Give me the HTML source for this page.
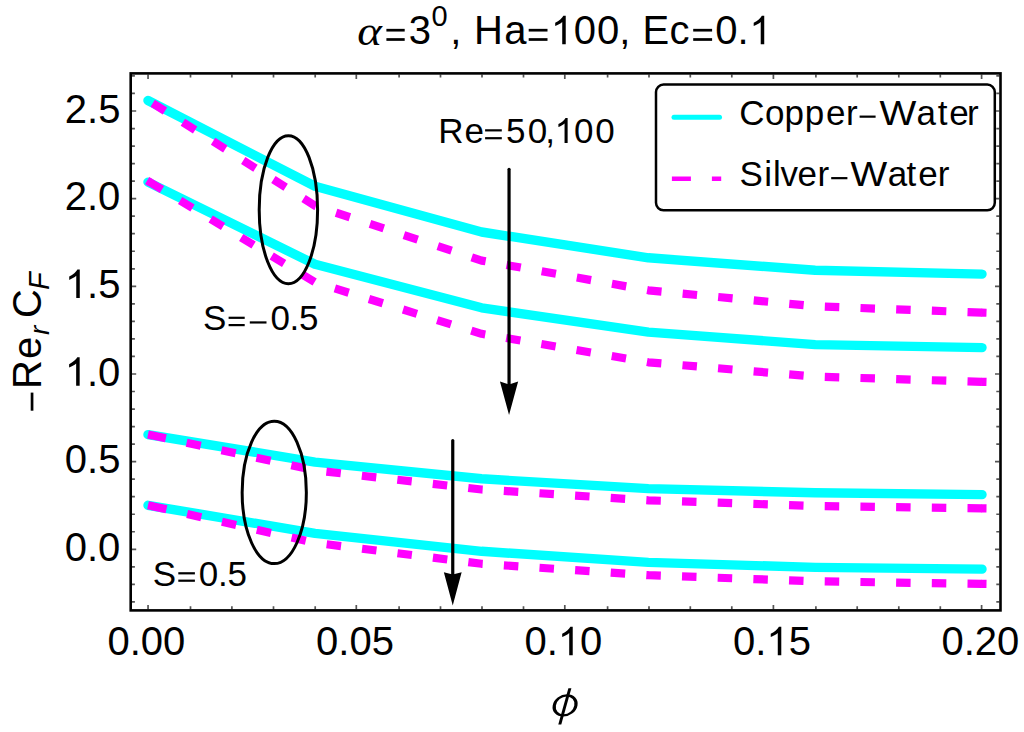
<!DOCTYPE html>
<html><head><meta charset="utf-8"><style>
html,body{margin:0;padding:0;background:#fff;overflow:hidden;}
svg{display:block;}
text{font-family:"Liberation Sans",sans-serif;fill:#000;}
</style></head><body>
<svg width="1024" height="732" viewBox="0 0 1024 732">
<rect x="0" y="0" width="1024" height="732" fill="#fff"/>
<path d="M148.05,609.20v-4.3M148.05,74.60v4.3M190.50,609.20v-3.0M190.50,74.60v3.0M231.90,609.20v-3.0M231.90,74.60v3.0M273.50,609.20v-3.0M273.50,74.60v3.0M315.20,609.20v-3.0M315.20,74.60v3.0M356.30,609.20v-4.3M356.30,74.60v4.3M399.10,609.20v-3.0M399.10,74.60v3.0M440.50,609.20v-3.0M440.50,74.60v3.0M482.00,609.20v-3.0M482.00,74.60v3.0M523.50,609.20v-3.0M523.50,74.60v3.0M564.80,609.20v-4.3M564.80,74.60v4.3M607.60,609.20v-3.0M607.60,74.60v3.0M649.00,609.20v-3.0M649.00,74.60v3.0M690.30,609.20v-3.0M690.30,74.60v3.0M731.80,609.20v-3.0M731.80,74.60v3.0M773.40,609.20v-4.3M773.40,74.60v4.3M815.90,609.20v-3.0M815.90,74.60v3.0M857.20,609.20v-3.0M857.20,74.60v3.0M898.80,609.20v-3.0M898.80,74.60v3.0M940.30,609.20v-3.0M940.30,74.60v3.0M981.60,609.20v-4.3M981.60,74.60v4.3M131.90,601.90h3.0M999.30,601.90h-3.0M131.90,584.36h3.0M999.30,584.36h-3.0M131.90,566.83h3.0M999.30,566.83h-3.0M131.90,549.30h4.3M999.30,549.30h-4.3M131.90,531.77h3.0M999.30,531.77h-3.0M131.90,514.24h3.0M999.30,514.24h-3.0M131.90,496.70h3.0M999.30,496.70h-3.0M131.90,479.17h3.0M999.30,479.17h-3.0M131.90,461.64h4.3M999.30,461.64h-4.3M131.90,444.11h3.0M999.30,444.11h-3.0M131.90,426.58h3.0M999.30,426.58h-3.0M131.90,409.04h3.0M999.30,409.04h-3.0M131.90,391.51h3.0M999.30,391.51h-3.0M131.90,373.98h4.3M999.30,373.98h-4.3M131.90,356.45h3.0M999.30,356.45h-3.0M131.90,338.92h3.0M999.30,338.92h-3.0M131.90,321.38h3.0M999.30,321.38h-3.0M131.90,303.85h3.0M999.30,303.85h-3.0M131.90,286.32h4.3M999.30,286.32h-4.3M131.90,268.79h3.0M999.30,268.79h-3.0M131.90,251.26h3.0M999.30,251.26h-3.0M131.90,233.72h3.0M999.30,233.72h-3.0M131.90,216.19h3.0M999.30,216.19h-3.0M131.90,198.66h4.3M999.30,198.66h-4.3M131.90,181.13h3.0M999.30,181.13h-3.0M131.90,163.60h3.0M999.30,163.60h-3.0M131.90,146.06h3.0M999.30,146.06h-3.0M131.90,128.53h3.0M999.30,128.53h-3.0M131.90,111.00h4.3M999.30,111.00h-4.3M131.90,93.47h3.0M999.30,93.47h-3.0M131.90,75.94h3.0M999.30,75.94h-3.0" stroke="#555" stroke-width="1.7" fill="none"/>
<polyline points="148.0,100.5 315.0,186.3 481.6,232.0 648.4,257.8 815.2,270.3 982.0,274.1" fill="none" stroke="#00ffff" stroke-width="9.4" stroke-linejoin="round" stroke-linecap="round"/>
<polyline points="148.0,182.1 315.0,264.3 481.6,307.8 648.4,332.1 815.2,344.6 982.0,347.6" fill="none" stroke="#00ffff" stroke-width="9.4" stroke-linejoin="round" stroke-linecap="round"/>
<polyline points="148.0,434.6 315.0,462.1 481.6,478.8 648.4,488.6 815.2,492.8 982.0,494.6" fill="none" stroke="#00ffff" stroke-width="9.4" stroke-linejoin="round" stroke-linecap="round"/>
<polyline points="148.0,505.3 315.0,533.3 481.6,551.3 648.4,562.4 815.2,567.4 982.0,569.1" fill="none" stroke="#00ffff" stroke-width="9.4" stroke-linejoin="round" stroke-linecap="round"/>
<polyline points="982.0,312.6 815.2,306.3 648.4,290.3 481.6,260.6 315.0,205.8 148.0,100.2" fill="none" stroke="#ff00ff" stroke-width="8.2" stroke-linejoin="round" stroke-dasharray="14.5 21.20" stroke-dashoffset="0"/>
<line x1="981.50" y1="312.58" x2="986.50" y2="312.77" stroke="#ff00ff" stroke-width="8.2"/>
<polyline points="982.0,381.8 815.2,376.6 648.4,362.3 481.6,333.8 315.0,282.3 148.0,181.1" fill="none" stroke="#ff00ff" stroke-width="8.2" stroke-linejoin="round" stroke-dasharray="14.5 21.20" stroke-dashoffset="0"/>
<line x1="981.50" y1="381.78" x2="986.50" y2="381.94" stroke="#ff00ff" stroke-width="8.2"/>
<line x1="147.14" y1="180.58" x2="150.10" y2="182.37" stroke="#ff00ff" stroke-width="8.2"/>
<polyline points="982.0,508.3 815.2,506.0 648.4,500.3 481.6,489.5 315.0,470.3 148.0,434.5" fill="none" stroke="#ff00ff" stroke-width="8.2" stroke-linejoin="round" stroke-dasharray="14.5 21.20" stroke-dashoffset="0"/>
<line x1="981.50" y1="508.29" x2="986.50" y2="508.36" stroke="#ff00ff" stroke-width="8.2"/>
<line x1="148.00" y1="434.50" x2="152.26" y2="435.41" stroke="#ff00ff" stroke-width="8.2"/>
<polyline points="982.0,583.9 815.2,581.3 648.4,575.2 481.6,563.8 315.0,542.8 148.0,505.2" fill="none" stroke="#ff00ff" stroke-width="8.2" stroke-linejoin="round" stroke-dasharray="14.5 21.20" stroke-dashoffset="0"/>
<line x1="981.50" y1="583.89" x2="986.50" y2="583.97" stroke="#ff00ff" stroke-width="8.2"/>
<line x1="148.00" y1="505.20" x2="152.90" y2="506.30" stroke="#ff00ff" stroke-width="8.2"/>
<rect x="130.7" y="73.4" width="869.8" height="537.0" fill="none" stroke="#000" stroke-width="2.6"/>
<ellipse cx="288.4" cy="209.7" rx="29.2" ry="74" fill="none" stroke="#000" stroke-width="3"/>
<ellipse cx="274.25" cy="492.4" rx="32.1" ry="71.2" fill="none" stroke="#000" stroke-width="3"/>
<line x1="509.05" y1="169.3" x2="509.05" y2="385.5" stroke="#000" stroke-width="3.2" stroke-linecap="round"/><path d="M509.05,415.0L499.95,381.5L509.05,384.5L518.15,381.5Z" fill="#000"/>
<line x1="452.75" y1="440.5" x2="452.75" y2="575.6" stroke="#000" stroke-width="3.2" stroke-linecap="round"/><path d="M452.75,605.5L443.85,572.3L452.75,574.6L461.65,572.3Z" fill="#000"/>
<rect x="656" y="84.6" width="338.8" height="125.7" rx="7.5" ry="7.5" fill="#fff" stroke="#000" stroke-width="2.5"/>
<line x1="674" y1="117.3" x2="719.5" y2="117.3" stroke="#00ffff" stroke-width="5" stroke-linecap="round"/>
<line x1="671.9" y1="178.8" x2="721.2" y2="178.8" stroke="#ff00ff" stroke-width="4.5" stroke-dasharray="19 21"/>
<text x="408.68" y="44.30" font-size="40" style='font-family:"Liberation Sans",sans-serif'>3</text>
<rect x="386.40" y="28.85" width="18.30" height="2.70" fill="#000"/><rect x="386.40" y="38.15" width="18.30" height="2.70" fill="#000"/>
<rect x="528.70" y="28.85" width="18.80" height="2.70" fill="#000"/><rect x="528.70" y="38.15" width="18.80" height="2.70" fill="#000"/>
<rect x="693.20" y="28.85" width="18.90" height="2.70" fill="#000"/><rect x="693.20" y="38.15" width="18.90" height="2.70" fill="#000"/>
<text x="450.31" y="44.30" font-size="40" style='font-family:"Liberation Sans",sans-serif'>,</text>
<text x="474.12" y="44.30" font-size="40" style='font-family:"Liberation Sans",sans-serif'>H</text>
<text x="504.30" y="44.30" font-size="40" style='font-family:"Liberation Sans",sans-serif'>a</text>
<path d="M763 0L583 0L583 1147C540 1106 483 1065 413 1024C343 983 280 952 223 931L223 1105C323 1152 410 1209 484 1276C558 1343 611 1407 642 1466L763 1466Z" transform="translate(550.84,44.30) scale(0.01953,-0.01953)" fill="#000"/>
<text x="573.84" y="44.30" font-size="40" style='font-family:"Liberation Sans",sans-serif'>0</text>
<text x="596.94" y="44.30" font-size="40" style='font-family:"Liberation Sans",sans-serif'>0</text>
<text x="619.21" y="44.30" font-size="40" style='font-family:"Liberation Sans",sans-serif'>,</text>
<text x="642.42" y="44.30" font-size="40" style='font-family:"Liberation Sans",sans-serif'>E</text>
<text x="669.50" y="44.30" font-size="40" style='font-family:"Liberation Sans",sans-serif'>c</text>
<text x="715.24" y="44.30" font-size="40" style='font-family:"Liberation Sans",sans-serif'>0</text>
<text x="737.45" y="44.30" font-size="40" style='font-family:"Liberation Sans",sans-serif'>.</text>
<path d="M763 0L583 0L583 1147C540 1106 483 1065 413 1024C343 983 280 952 223 931L223 1105C323 1152 410 1209 484 1276C558 1343 611 1407 642 1466L763 1466Z" transform="translate(749.34,44.30) scale(0.01953,-0.01953)" fill="#000"/>
<text x="431.47" y="26.20" font-size="29" style='font-family:"Liberation Sans",sans-serif'>0</text>
<text transform="translate(357.20,45.27) scale(1.173,1.043)" font-size="40" style='font-family:"Liberation Serif",serif' font-style="italic">α</text>
<text x="64.87" y="122.80" font-size="40" style='font-family:"Liberation Sans",sans-serif'>2</text>
<text x="87.12" y="122.80" font-size="40" style='font-family:"Liberation Sans",sans-serif'>.</text>
<text x="98.23" y="122.80" font-size="40" style='font-family:"Liberation Sans",sans-serif'>5</text>
<text x="64.76" y="210.46" font-size="40" style='font-family:"Liberation Sans",sans-serif'>2</text>
<text x="87.00" y="210.46" font-size="40" style='font-family:"Liberation Sans",sans-serif'>.</text>
<text x="98.12" y="210.46" font-size="40" style='font-family:"Liberation Sans",sans-serif'>0</text>
<path d="M763 0L583 0L583 1147C540 1106 483 1065 413 1024C343 983 280 952 223 931L223 1105C323 1152 410 1209 484 1276C558 1343 611 1407 642 1466L763 1466Z" transform="translate(64.87,298.12) scale(0.01953,-0.01953)" fill="#000"/>
<text x="87.12" y="298.12" font-size="40" style='font-family:"Liberation Sans",sans-serif'>.</text>
<text x="98.23" y="298.12" font-size="40" style='font-family:"Liberation Sans",sans-serif'>5</text>
<path d="M763 0L583 0L583 1147C540 1106 483 1065 413 1024C343 983 280 952 223 931L223 1105C323 1152 410 1209 484 1276C558 1343 611 1407 642 1466L763 1466Z" transform="translate(64.76,385.78) scale(0.01953,-0.01953)" fill="#000"/>
<text x="87.00" y="385.78" font-size="40" style='font-family:"Liberation Sans",sans-serif'>.</text>
<text x="98.12" y="385.78" font-size="40" style='font-family:"Liberation Sans",sans-serif'>0</text>
<text x="64.87" y="473.44" font-size="40" style='font-family:"Liberation Sans",sans-serif'>0</text>
<text x="87.12" y="473.44" font-size="40" style='font-family:"Liberation Sans",sans-serif'>.</text>
<text x="98.23" y="473.44" font-size="40" style='font-family:"Liberation Sans",sans-serif'>5</text>
<text x="64.76" y="561.10" font-size="40" style='font-family:"Liberation Sans",sans-serif'>0</text>
<text x="87.00" y="561.10" font-size="40" style='font-family:"Liberation Sans",sans-serif'>.</text>
<text x="98.12" y="561.10" font-size="40" style='font-family:"Liberation Sans",sans-serif'>0</text>
<text x="107.47" y="655.30" font-size="40" style='font-family:"Liberation Sans",sans-serif'>0</text>
<text x="129.72" y="655.30" font-size="40" style='font-family:"Liberation Sans",sans-serif'>.</text>
<text x="140.83" y="655.30" font-size="40" style='font-family:"Liberation Sans",sans-serif'>0</text>
<text x="163.08" y="655.30" font-size="40" style='font-family:"Liberation Sans",sans-serif'>0</text>
<text x="316.03" y="655.30" font-size="40" style='font-family:"Liberation Sans",sans-serif'>0</text>
<text x="338.28" y="655.30" font-size="40" style='font-family:"Liberation Sans",sans-serif'>.</text>
<text x="349.39" y="655.30" font-size="40" style='font-family:"Liberation Sans",sans-serif'>0</text>
<text x="371.64" y="655.30" font-size="40" style='font-family:"Liberation Sans",sans-serif'>5</text>
<text x="524.47" y="655.30" font-size="40" style='font-family:"Liberation Sans",sans-serif'>0</text>
<text x="546.72" y="655.30" font-size="40" style='font-family:"Liberation Sans",sans-serif'>.</text>
<path d="M763 0L583 0L583 1147C540 1106 483 1065 413 1024C343 983 280 952 223 931L223 1105C323 1152 410 1209 484 1276C558 1343 611 1407 642 1466L763 1466Z" transform="translate(557.83,655.30) scale(0.01953,-0.01953)" fill="#000"/>
<text x="580.08" y="655.30" font-size="40" style='font-family:"Liberation Sans",sans-serif'>0</text>
<text x="733.03" y="655.30" font-size="40" style='font-family:"Liberation Sans",sans-serif'>0</text>
<text x="755.28" y="655.30" font-size="40" style='font-family:"Liberation Sans",sans-serif'>.</text>
<path d="M763 0L583 0L583 1147C540 1106 483 1065 413 1024C343 983 280 952 223 931L223 1105C323 1152 410 1209 484 1276C558 1343 611 1407 642 1466L763 1466Z" transform="translate(766.39,655.30) scale(0.01953,-0.01953)" fill="#000"/>
<text x="788.64" y="655.30" font-size="40" style='font-family:"Liberation Sans",sans-serif'>5</text>
<text x="941.47" y="655.30" font-size="40" style='font-family:"Liberation Sans",sans-serif'>0</text>
<text x="963.72" y="655.30" font-size="40" style='font-family:"Liberation Sans",sans-serif'>.</text>
<text x="974.83" y="655.30" font-size="40" style='font-family:"Liberation Sans",sans-serif'>2</text>
<text x="997.08" y="655.30" font-size="40" style='font-family:"Liberation Sans",sans-serif'>0</text>
<text x="739.32" y="124.80" font-size="35" style='font-family:"Liberation Sans",sans-serif'>C</text>
<text x="765.03" y="124.80" font-size="35" style='font-family:"Liberation Sans",sans-serif'>o</text>
<text x="784.54" y="124.80" font-size="35" style='font-family:"Liberation Sans",sans-serif'>p</text>
<text x="804.84" y="124.80" font-size="35" style='font-family:"Liberation Sans",sans-serif'>p</text>
<text x="825.91" y="124.80" font-size="35" style='font-family:"Liberation Sans",sans-serif'>e</text>
<text x="846.08" y="124.80" font-size="35" style='font-family:"Liberation Sans",sans-serif'>r</text>
<rect x="859.60" y="115.55" width="16.00" height="2.20" fill="#000"/>
<text transform="translate(879.53,124.80) scale(1.1141,1)" font-size="35" style='font-family:"Liberation Sans",sans-serif'>W</text>
<text x="916.41" y="124.80" font-size="35" style='font-family:"Liberation Sans",sans-serif'>a</text>
<text x="937.67" y="124.80" font-size="35" style='font-family:"Liberation Sans",sans-serif'>t</text>
<text x="949.21" y="124.80" font-size="35" style='font-family:"Liberation Sans",sans-serif'>e</text>
<text x="967.08" y="124.80" font-size="35" style='font-family:"Liberation Sans",sans-serif'>r</text>
<text x="739.51" y="186.00" font-size="35" style='font-family:"Liberation Sans",sans-serif'>S</text>
<text x="764.16" y="186.00" font-size="35" style='font-family:"Liberation Sans",sans-serif'>i</text>
<text x="773.04" y="186.00" font-size="35" style='font-family:"Liberation Sans",sans-serif'>l</text>
<text x="780.38" y="186.00" font-size="35" style='font-family:"Liberation Sans",sans-serif'>v</text>
<text x="797.41" y="186.00" font-size="35" style='font-family:"Liberation Sans",sans-serif'>e</text>
<text x="817.48" y="186.00" font-size="35" style='font-family:"Liberation Sans",sans-serif'>r</text>
<rect x="831.20" y="177.05" width="16.20" height="2.20" fill="#000"/>
<text transform="translate(850.53,186.00) scale(1.1111,1)" font-size="35" style='font-family:"Liberation Sans",sans-serif'>W</text>
<text x="887.81" y="186.00" font-size="35" style='font-family:"Liberation Sans",sans-serif'>a</text>
<text x="906.47" y="186.00" font-size="35" style='font-family:"Liberation Sans",sans-serif'>t</text>
<text x="918.21" y="186.00" font-size="35" style='font-family:"Liberation Sans",sans-serif'>e</text>
<text x="937.78" y="186.00" font-size="35" style='font-family:"Liberation Sans",sans-serif'>r</text>
<text x="438.13" y="143.00" font-size="35" style='font-family:"Liberation Sans",sans-serif'>R</text>
<text x="464.51" y="143.00" font-size="35" style='font-family:"Liberation Sans",sans-serif'>e</text>
<text x="506.00" y="143.00" font-size="35" style='font-family:"Liberation Sans",sans-serif'>5</text>
<text x="527.73" y="143.00" font-size="35" style='font-family:"Liberation Sans",sans-serif'>0</text>
<text x="545.36" y="143.00" font-size="35" style='font-family:"Liberation Sans",sans-serif'>,</text>
<path d="M763 0L583 0L583 1147C540 1106 483 1065 413 1024C343 983 280 952 223 931L223 1105C323 1152 410 1209 484 1276C558 1343 611 1407 642 1466L763 1466Z" transform="translate(554.59,143.00) scale(0.01709,-0.01709)" fill="#000"/>
<text x="574.03" y="143.00" font-size="35" style='font-family:"Liberation Sans",sans-serif'>0</text>
<text x="595.13" y="143.00" font-size="35" style='font-family:"Liberation Sans",sans-serif'>0</text>
<rect x="485.10" y="129.25" width="16.70" height="2.20" fill="#000"/><rect x="485.10" y="137.10" width="16.70" height="2.20" fill="#000"/>
<text x="203.11" y="330.20" font-size="35" style='font-family:"Liberation Sans",sans-serif'>S</text>
<text x="270.43" y="330.20" font-size="35" style='font-family:"Liberation Sans",sans-serif'>0</text>
<text x="289.40" y="330.20" font-size="35" style='font-family:"Liberation Sans",sans-serif'>.</text>
<text x="299.10" y="330.20" font-size="35" style='font-family:"Liberation Sans",sans-serif'>5</text>
<rect x="228.60" y="316.70" width="16.10" height="2.20" fill="#000"/><rect x="228.60" y="324.00" width="16.10" height="2.20" fill="#000"/>
<rect x="249.80" y="321.35" width="16.70" height="2.20" fill="#000"/>
<text x="152.71" y="585.90" font-size="35" style='font-family:"Liberation Sans",sans-serif'>S</text>
<text x="198.83" y="585.90" font-size="35" style='font-family:"Liberation Sans",sans-serif'>0</text>
<text x="218.00" y="585.90" font-size="35" style='font-family:"Liberation Sans",sans-serif'>.</text>
<text x="227.60" y="585.90" font-size="35" style='font-family:"Liberation Sans",sans-serif'>5</text>
<rect x="178.30" y="572.20" width="16.60" height="2.20" fill="#000"/><rect x="178.30" y="579.60" width="16.60" height="2.20" fill="#000"/>
<rect x="30.7" y="392.6" width="2.7" height="18.1" fill="#000"/>
<g transform="translate(41.4,411.2) rotate(-90)"><text x="22.32" y="0.00" font-size="40" style='font-family:"Liberation Sans",sans-serif'>R</text><text x="52.20" y="0.00" font-size="40" style='font-family:"Liberation Sans",sans-serif'>e</text><text x="93.17" y="0.00" font-size="40" style='font-family:"Liberation Sans",sans-serif'>C</text><text x="76.14" y="7.90" font-size="28" style='font-family:"Liberation Sans",sans-serif' font-style="italic">r</text><text x="121.11" y="7.90" font-size="29" style='font-family:"Liberation Sans",sans-serif' font-style="italic">F</text></g>
<g transform="translate(565.1,705.4) skewX(-10)"><path d="M-12.4,0a12.4,11.1 0 1,0 24.8,0a12.4,11.1 0 1,0 -24.8,0ZM-9.2,0a9.2,8.9 0 1,0 18.4,0a9.2,8.9 0 1,0 -18.4,0Z" fill="#000" fill-rule="evenodd"/></g><g transform="translate(565.1,705.4) skewX(-15.5)"><line x1="0" y1="-17.2" x2="0" y2="19.2" stroke="#000" stroke-width="3"/></g>
</svg></body></html>
